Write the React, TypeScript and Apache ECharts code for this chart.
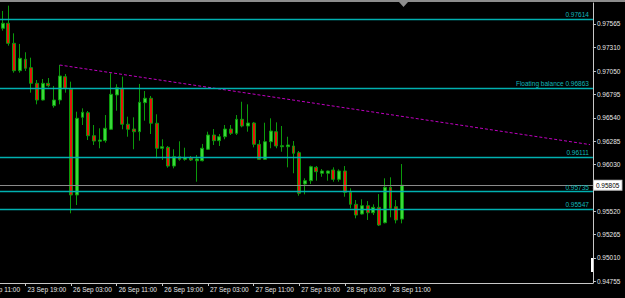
import React, { useEffect, useRef } from "react";
import * as echarts from "echarts";

// Hourly candles, first one at category 4 (23 Sep 15:00)
const firstCandle = 4;
const opens = [0.97518, 0.97573, 0.97354, 0.97055, 0.97180, 0.97088, 0.96917, 0.96735, 0.96917, 0.96673, 0.96735, 0.96990, 0.96852, 0.95698, 0.96546, 0.96596, 0.96345, 0.96285, 0.96291, 0.96415, 0.96790, 0.96863, 0.96470, 0.96418, 0.96389, 0.96706, 0.96754, 0.96481, 0.96208, 0.96218, 0.96014, 0.96116, 0.96087, 0.96105, 0.96072, 0.96072, 0.96197, 0.96353, 0.96291, 0.96334, 0.96418, 0.96371, 0.96524, 0.96451, 0.96484, 0.96251, 0.96087, 0.96280, 0.96389, 0.96225, 0.96225, 0.96233, 0.96160, 0.95818, 0.95854, 0.96000, 0.95935, 0.95935, 0.95971, 0.95869, 0.95960, 0.95727, 0.95596, 0.95490, 0.95581, 0.95504, 0.95563, 0.95395, 0.95782, 0.95570, 0.95435];
const highs = [0.97707, 0.97765, 0.97463, 0.97347, 0.97256, 0.97197, 0.96953, 0.96964, 0.96975, 0.96888, 0.97117, 0.97019, 0.96935, 0.96607, 0.96644, 0.96615, 0.96462, 0.96426, 0.96571, 0.97027, 0.96907, 0.96990, 0.96553, 0.96546, 0.96910, 0.96833, 0.96779, 0.96579, 0.96306, 0.96233, 0.96197, 0.96284, 0.96214, 0.96123, 0.96134, 0.96255, 0.96389, 0.96418, 0.96364, 0.96462, 0.96462, 0.96571, 0.96716, 0.96688, 0.96495, 0.96298, 0.96487, 0.96535, 0.96491, 0.96451, 0.96334, 0.96287, 0.96178, 0.95880, 0.96018, 0.96014, 0.95981, 0.95965, 0.96000, 0.95978, 0.96014, 0.95771, 0.95643, 0.95651, 0.95632, 0.95596, 0.95708, 0.95880, 0.95891, 0.95643, 0.96036];
const lows = [0.97492, 0.97328, 0.97033, 0.97033, 0.97052, 0.96815, 0.96688, 0.96730, 0.96874, 0.96651, 0.96688, 0.96815, 0.95498, 0.95588, 0.96462, 0.96298, 0.96244, 0.96208, 0.96269, 0.96407, 0.96618, 0.96415, 0.96334, 0.96197, 0.96291, 0.96509, 0.96364, 0.96098, 0.96080, 0.95996, 0.95989, 0.96072, 0.96072, 0.96069, 0.95843, 0.96065, 0.96189, 0.96244, 0.96233, 0.96306, 0.96353, 0.96353, 0.96437, 0.96389, 0.96218, 0.96080, 0.96080, 0.96208, 0.96208, 0.96170, 0.96000, 0.95935, 0.95690, 0.95705, 0.95818, 0.95854, 0.95897, 0.95854, 0.95843, 0.95843, 0.95679, 0.95552, 0.95443, 0.95485, 0.95425, 0.95479, 0.95359, 0.95388, 0.95454, 0.95388, 0.95388];
const closes = [0.97573, 0.97354, 0.97055, 0.97190, 0.97081, 0.96917, 0.96735, 0.96917, 0.96891, 0.96735, 0.96997, 0.96863, 0.95698, 0.96535, 0.96601, 0.96345, 0.96287, 0.96298, 0.96426, 0.96797, 0.96869, 0.96470, 0.96415, 0.96389, 0.96710, 0.96754, 0.96481, 0.96208, 0.96225, 0.96014, 0.96116, 0.96087, 0.96105, 0.96080, 0.96091, 0.96208, 0.96353, 0.96291, 0.96334, 0.96418, 0.96371, 0.96524, 0.96451, 0.96484, 0.96251, 0.96087, 0.96280, 0.96396, 0.96233, 0.96236, 0.96244, 0.96153, 0.95716, 0.95854, 0.96007, 0.95952, 0.95960, 0.95960, 0.95869, 0.95960, 0.95727, 0.95596, 0.95479, 0.95581, 0.95504, 0.95563, 0.95370, 0.95782, 0.95552, 0.95425, 0.95805];

const categoryCount = 108;
const xLabels = ["23 Sep 11:00", "23 Sep 19:00", "26 Sep 03:00", "26 Sep 11:00", "26 Sep 19:00", "27 Sep 03:00", "27 Sep 11:00", "27 Sep 19:00", "28 Sep 03:00", "28 Sep 11:00"];
const xLabelStep = 8;
const yTicks = [0.97565, 0.9731, 0.9705, 0.96795, 0.9654, 0.96285, 0.9603, 0.95775, 0.9552, 0.95265, 0.9501, 0.94755];

const levelValues = [0.97614, 0.96863, 0.96111, 0.95735, 0.95547];
const levelNames = ["", "Floating balance", "", "", ""];
const bidPrice = 0.95805;

const trendStart = [14, 0.97117];
const trendEnd = [107, 0.96248];

export default function App() {
  const ref = useRef<HTMLDivElement>(null);
  useEffect(() => {
    document.body.style.margin = "0";
    document.body.style.overflow = "hidden";
    const chart = echarts.init(ref.current!, null, { renderer: "svg" });
    const shift = 23; // div starts 23px left of the page so the first label is cut off
    const bw = 5.703;
    const font = "Liberation Sans";
    const fs = 6.5;
    const candleData = opens.map((o, k) => [k + firstCandle, o, closes[k], lows[k], highs[k]]);
    const isLabel = (i: number) => i % xLabelStep === 0 && i / xLabelStep < xLabels.length;
    // the tick label under the bid price box is hidden by it
    const yLabelValues = yTicks.filter((v) => Math.abs(v - bidPrice) > 0.0005);
    const teal = "#00b0b0";
    chart.setOption({
      animation: false,
      backgroundColor: "#000000",
      grid: { left: 0, top: 3, width: categoryCount * bw, height: 280 },
      xAxis: {
        type: "category",
        data: Array.from({ length: categoryCount }, (_, i) => String(i)),
        boundaryGap: true,
        axisLine: { show: true, lineStyle: { color: "#c8c8c8", width: 1 } },
        axisTick: { show: true, interval: (i: number) => isLabel(i), alignWithLabel: true, length: 3, lineStyle: { color: "#c8c8c8" } },
        axisLabel: {
          interval: (i: number) => isLabel(i),
          formatter: (v: string) => { const i = Number(v); return isLabel(i) ? xLabels[i / xLabelStep] : ""; },
          align: "left",
          margin: 3,
          padding: [0, 0, 0, 2],
          color: "#e8e8e8",
          fontFamily: font,
          fontSize: fs,
        },
        splitLine: { show: false },
      },
      yAxis: {
        type: "value",
        position: "right",
        min: 0.94737,
        max: 0.97794,
        axisLine: { show: true, lineStyle: { color: "#c8c8c8", width: 1 } },
        axisTick: { show: true, customValues: yTicks, length: 3, inside: false, lineStyle: { color: "#c8c8c8" } },
        axisLabel: {
          customValues: yLabelValues,
          formatter: (v: number) => v.toFixed(5),
          margin: 4,
          color: "#e8e8e8",
          fontFamily: font,
          fontSize: fs,
        },
        splitLine: { show: false },
      },
      series: [
        {
          type: "candlestick",
          data: candleData,
          encode: { x: 0, y: [1, 2, 3, 4] },
          barWidth: 3.4,
          itemStyle: {
            color: "#3ad83a",
            color0: "#e8140a",
            borderColor: "#0b9a0b",
            borderColor0: "#0b9a0b",
            borderColorDoji: "#0b9a0b",
            borderWidth: 1,
          },
          markLine: {
            silent: true,
            symbol: ["none", "none"],
            precision: 5,
            animation: false,
            data: [
              ...levelValues.map((v, k) => ({
                yAxis: v,
                lineStyle: { color: teal, width: 1.3, type: "solid", opacity: 1 },
                label: {
                  show: true,
                  position: "insideEndTop",
                  distance: [4, 1],
                  formatter: (levelNames[k] ? levelNames[k] + " " : "") + v.toFixed(5),
                  color: "#10b8b8",
                  fontFamily: font,
                  fontSize: fs,
                },
              })),
              {
                yAxis: bidPrice,
                lineStyle: { color: "#8a8a8a", width: 1, type: "solid", opacity: 1 },
                label: {
                  show: true,
                  position: "end",
                  distance: 1,
                  formatter: bidPrice.toFixed(5),
                  color: "#000000",
                  backgroundColor: "#ffffff",
                  borderColor: "#c8c8c8",
                  borderWidth: 1,
                  padding: [1, 2, 1, 2],
                  fontFamily: font,
                  fontSize: fs,
                },
              },
            ],
          },
        },
        {
          type: "line",
          data: [trendStart, trendEnd],
          symbol: "none",
          silent: true,
          lineStyle: { color: "#c000c0", width: 1, type: [3, 2] },
        },
      ],
      graphic: [
        { type: "rect", shape: { x: 0, y: 0, width: 625 + shift, height: 2 }, style: { fill: "#8c8c8c" }, silent: true },
        { type: "polygon", shape: { points: [[399 + shift, 2], [408 + shift, 2], [403.5 + shift, 7]] }, style: { fill: "#8c8c8c" }, silent: true },
        { type: "rect", shape: { x: 591 + shift, y: 258, width: 2, height: 14 }, style: { fill: "#ffffff" }, silent: true },
      ],
    });
    return () => chart.dispose();
  }, []);
  return <div ref={ref} style={{ width: 648, height: 298, position: "absolute", left: -23, top: 0 }} />;
}
